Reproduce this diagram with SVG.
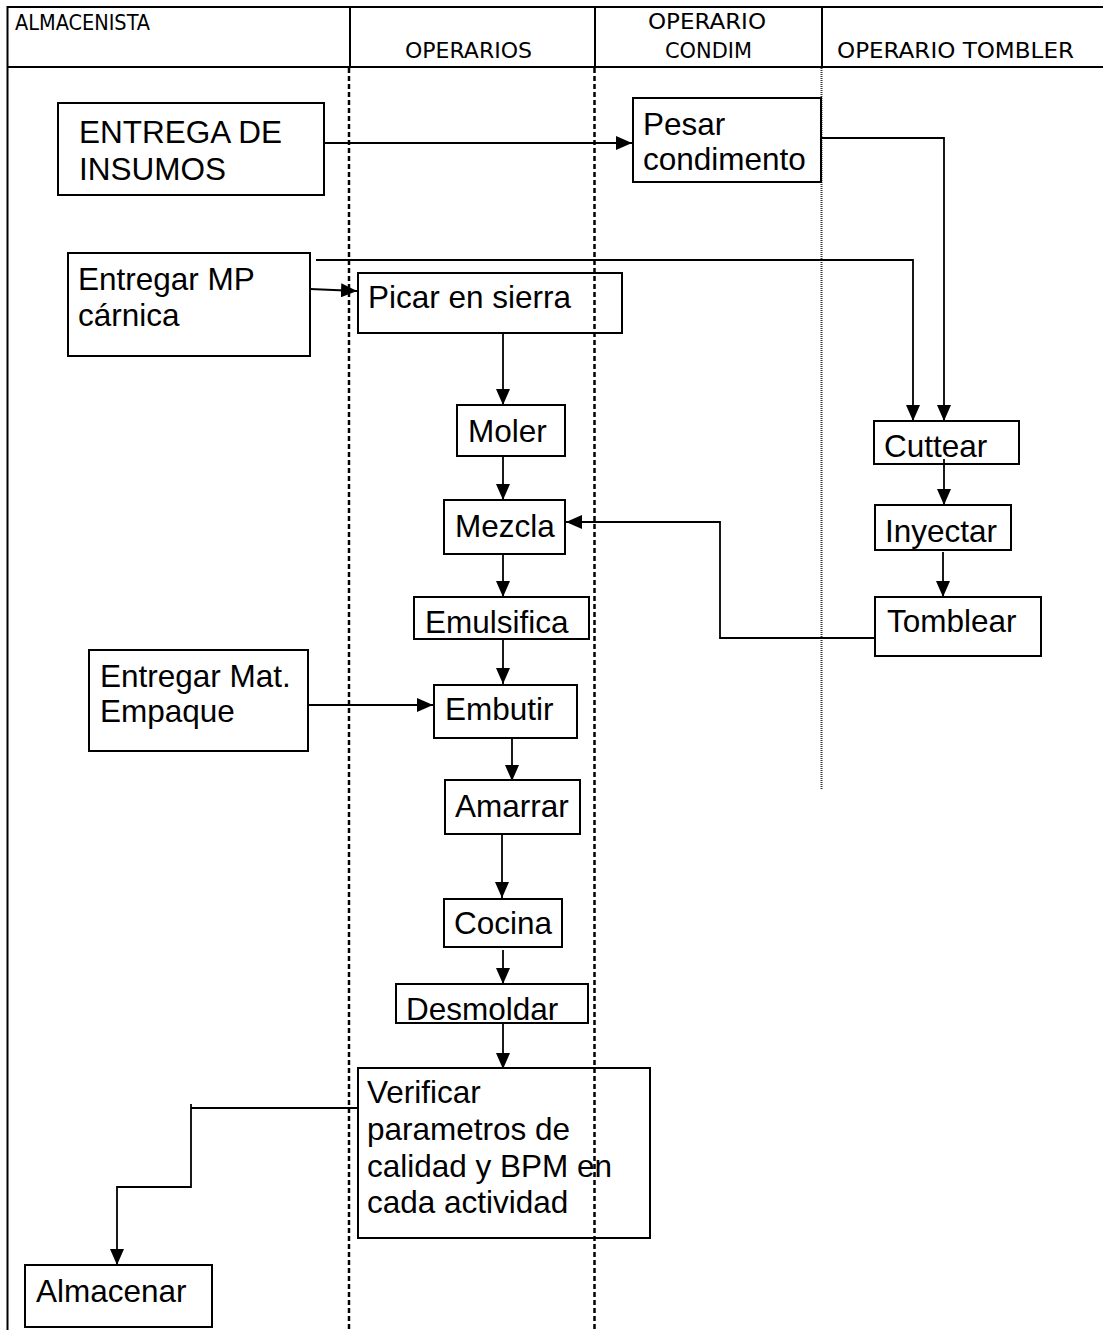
<svg xmlns="http://www.w3.org/2000/svg" width="1103" height="1330" viewBox="0 0 1103 1330">
<style>
.hdr{font-family:"DejaVu Sans Condensed","DejaVu Sans",sans-serif;font-size:22px;fill:#000}
.t{font-family:"Liberation Sans",Arial,sans-serif;font-size:31.5px;fill:#000}
.box{fill:none;stroke:#000;stroke-width:2}
.c{fill:none;stroke:#000;stroke-width:1.8}
.lane{stroke:#000;stroke-width:2.5;stroke-dasharray:5 3}
.lane2{stroke:#333;stroke-width:2;stroke-dasharray:1 1}
.grid{stroke:#000;stroke-width:2;fill:none}
</style>
<defs>
<marker id="ah" markerUnits="userSpaceOnUse" markerWidth="16" markerHeight="14" refX="16" refY="7" orient="auto">
<path d="M0,0 L16,7 L0,14 Z" fill="#000"/>
</marker>
</defs>
<rect width="1103" height="1330" fill="#fff"/>
<g id="lanes">
<line class="grid" x1="7" y1="7" x2="1103" y2="7"/>
<line class="grid" x1="7" y1="67" x2="1103" y2="67"/>
<line class="grid" x1="7.5" y1="6" x2="7.5" y2="1330"/>
<line class="grid" x1="350" y1="7" x2="350" y2="67"/>
<line class="grid" x1="595" y1="7" x2="595" y2="67"/>
<line class="grid" x1="822" y1="7" x2="822" y2="67"/>
<line class="lane" x1="349" y1="68" x2="349" y2="1330"/>
<line class="lane" x1="594.5" y1="68" x2="594.5" y2="1330"/>
<line class="lane2" x1="821.5" y1="68" x2="821.5" y2="790"/>
<text class="hdr" x="15" y="30" textLength="135" lengthAdjust="spacingAndGlyphs">ALMACENISTA</text>
<text class="hdr" x="405" y="58" textLength="127" lengthAdjust="spacingAndGlyphs">OPERARIOS</text>
<text class="hdr" x="648" y="29" textLength="118" lengthAdjust="spacingAndGlyphs">OPERARIO</text>
<text class="hdr" x="665" y="58" textLength="87" lengthAdjust="spacingAndGlyphs">CONDIM</text>
<text class="hdr" x="837" y="58" textLength="237" lengthAdjust="spacingAndGlyphs">OPERARIO TOMBLER</text>
</g>
<g id="n-entrega-insumos"><rect class="box" x="58" y="103" width="266" height="92"/><text class="t" x="79" y="143">ENTREGA DE</text><text class="t" x="79" y="180">INSUMOS</text></g>
<g id="n-pesar"><rect class="box" x="633" y="98" width="188" height="84"/><text class="t" x="643" y="135">Pesar</text><text class="t" x="643" y="170">condimento</text></g>
<g id="n-entregar-mp"><rect class="box" x="68" y="253" width="242" height="103"/><text class="t" x="78" y="290">Entregar MP</text><text class="t" x="78" y="326">cárnica</text></g>
<g id="n-picar"><rect class="box" x="358" y="273" width="264" height="60"/><text class="t" x="368" y="308">Picar en sierra</text></g>
<g id="n-moler"><rect class="box" x="457" y="405" width="108" height="51"/><text class="t" x="468" y="442">Moler</text></g>
<g id="n-mezcla"><rect class="box" x="444" y="500" width="121" height="54"/><text class="t" x="455" y="537">Mezcla</text></g>
<g id="n-emulsifica"><rect class="box" x="414" y="597" width="175" height="42"/><text class="t" x="425" y="633">Emulsifica</text></g>
<g id="n-entregar-mat"><rect class="box" x="89" y="650" width="219" height="101"/><text class="t" x="100" y="687">Entregar Mat.</text><text class="t" x="100" y="722">Empaque</text></g>
<g id="n-embutir"><rect class="box" x="434" y="685" width="143" height="53"/><text class="t" x="445" y="720">Embutir</text></g>
<g id="n-amarrar"><rect class="box" x="445" y="780" width="135" height="54"/><text class="t" x="455" y="817">Amarrar</text></g>
<g id="n-cocina"><rect class="box" x="444" y="899" width="118" height="48"/><text class="t" x="454" y="934">Cocina</text></g>
<g id="n-desmoldar"><rect class="box" x="396" y="984" width="192" height="39"/><text class="t" x="406" y="1020">Desmoldar</text></g>
<g id="n-verificar"><rect class="box" x="358" y="1068" width="292" height="170"/><text class="t" x="367" y="1103">Verificar</text><text class="t" x="367" y="1140">parametros de</text><text class="t" x="367" y="1177">calidad y BPM en</text><text class="t" x="367" y="1213">cada actividad</text></g>
<g id="n-cuttear"><rect class="box" x="874" y="421" width="145" height="43"/><text class="t" x="884" y="457">Cuttear</text></g>
<g id="n-inyectar"><rect class="box" x="875" y="505" width="136" height="45"/><text class="t" x="885" y="542">Inyectar</text></g>
<g id="n-tomblear"><rect class="box" x="875" y="597" width="166" height="59"/><text class="t" x="887" y="632">Tomblear</text></g>
<g id="n-almacenar"><rect class="box" x="25" y="1265" width="187" height="62"/><text class="t" x="36" y="1302">Almacenar</text></g>
<g id="connectors">
<path class="c" d="M324,143 H632" marker-end="url(#ah)"/>
<path class="c" d="M821,138 H944 V421" marker-end="url(#ah)"/>
<path class="c" d="M316,260 H913 V421" marker-end="url(#ah)"/>
<path class="c" d="M310,289 L357,291" marker-end="url(#ah)"/>
<path class="c" d="M503,333 V405" marker-end="url(#ah)"/>
<path class="c" d="M503,456 V500" marker-end="url(#ah)"/>
<path class="c" d="M503,554 V597" marker-end="url(#ah)"/>
<path class="c" d="M503,639 V684" marker-end="url(#ah)"/>
<path class="c" d="M308,705 H433" marker-end="url(#ah)"/>
<path class="c" d="M512,738 V781" marker-end="url(#ah)"/>
<path class="c" d="M502,834 V898" marker-end="url(#ah)"/>
<path class="c" d="M503,950 V984" marker-end="url(#ah)"/>
<path class="c" d="M503,1023 V1069" marker-end="url(#ah)"/>
<path class="c" d="M944,459 V505" marker-end="url(#ah)"/>
<path class="c" d="M943,552 V597" marker-end="url(#ah)"/>
<path class="c" d="M875,638 H720 V522 H566" marker-end="url(#ah)"/>
<path class="c" d="M358,1108 H191"/>
<path class="c" d="M191,1104 V1187 H117 V1265" marker-end="url(#ah)"/>
</g>
</svg>
